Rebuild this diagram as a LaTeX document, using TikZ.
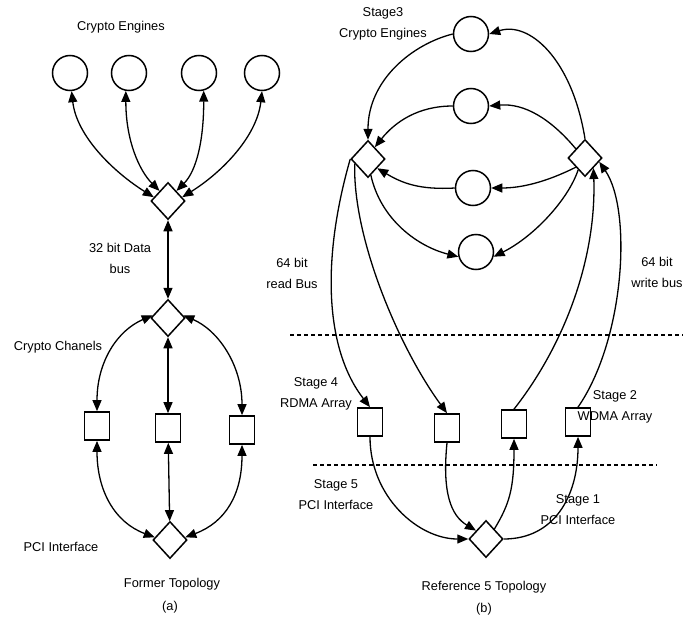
\documentclass[tikz,border=0pt]{standalone}
\usepackage{fontspec}
\setmainfont{Liberation Sans}
\usetikzlibrary{shapes.geometric,arrows.meta}
\tikzset{
  engine/.style={draw, circle, line width=1.5pt, minimum size=35pt, inner sep=0pt},
  switch/.style={draw, diamond, line width=1.5pt, minimum width=34pt, minimum height=37pt, inner sep=0pt},
  chan/.style={draw, rectangle, line width=1.7pt, minimum width=25pt, minimum height=28pt, inner sep=0pt},
  lbl/.style={align=center, inner sep=0pt, font=\fontsize{12.8}{21}\selectfont},
  bus/.style={line width=1.3pt, -{Triangle[length=11pt,width=9pt]}},
  dbus/.style={line width=1.3pt, {Triangle[length=11pt,width=9pt]}-{Triangle[length=11pt,width=9pt]}},
  stageline/.style={line width=1.2pt, dash pattern=on 4pt off 3pt}
}
\begin{document}
\begin{tikzpicture}[x=1pt,y=-1pt]
    \useasboundingbox (0,0) rectangle (683,621);
    % (a) former topology
    \node[lbl] (engA) at (121,27) {Crypto Engines};
    \node[engine] (a1) at (70,73) {};
    \node[engine] (a2) at (129,73) {};
    \node[engine] (a3) at (199,73) {};
    \node[engine] (a4) at (262,73) {};
    \node[switch] (ta) at (168,201) {};
    \node[lbl] (busA) at (120,258) {32 bit Data\\bus};
    \node[switch] (ma) at (168,318) {};
    \node[lbl] (chanA) at (58,347) {Crypto Chanels};
    \node[chan] (sa1) at (97,426) {};
    \node[chan] (sa2) at (168,428) {};
    \node[chan] (sa3) at (242,430) {};
    \node[switch] (ba) at (170,540) {};
    \node[lbl] (pciA) at (61,547) {PCI Interface};
    \node[lbl] (titA) at (172,584) {Former Topology};
    \node[lbl] (capA) at (170,607) {(a)};
    \draw[dbus] (a1.-85) .. controls +(5,45) and +(-40,-25) .. (ta.165);
    \draw[dbus] (a2.-100) .. controls +(0,50) and +(-20,-20) .. (ta.130);
    \draw[dbus] (a3.-75) .. controls +(0,50) and +(20,-20) .. (ta.50);
    \draw[dbus] (a4.-90) .. controls +(-5,45) and +(40,-25) .. (ta.15);
    \draw[dbus] (ta) -- (ma);
    \draw[dbus] (ma.170) .. controls +(-35,15) and +(0,-50) .. (sa1.north);
    \draw[dbus] (ma) -- (sa2);
    \draw[dbus] (ma.10) .. controls +(35,15) and +(0,-50) .. (sa3.north);
    \draw[dbus] (sa1.south) .. controls +(0,50) and +(-40,-15) .. (ba.170);
    \draw[dbus] (sa2) -- (ba);
    \draw[dbus] (sa3.south) .. controls +(0,50) and +(40,-15) .. (ba.10);
    % (b) reference 5 topology
    \node[lbl] (engB) at (383,24) {Stage3\\Crypto Engines};
    \node[engine] (b1) at (471,34) {};
    \node[engine] (b2) at (471,106) {};
    \node[engine] (b3) at (473,188) {};
    \node[engine] (b4) at (476,252) {};
    \node[switch] (rd) at (368,159) {};
    \node[switch] (wr) at (585,158) {};
    \node[lbl] (rdbus) at (292,273) {64 bit\\read Bus};
    \node[lbl] (wrbus) at (657,272) {64 bit\\write bus};
    \node[chan] (sb1) at (370,422) {};
    \node[chan] (sb2) at (447,428) {};
    \node[chan] (sb3) at (514,424) {};
    \node[chan] (sb4) at (578,422) {};
    \node[switch] (pb) at (486,539) {};
    \node[lbl] (st4) at (316,394) {Stage 4\\RDMA Array};
    \node[lbl] (st2) at (615,407) {Stage 2\\WDMA Array};
    \node[lbl] (st5) at (336,495) {Stage 5\\PCI Interface};
    \node[lbl] (st1) at (578,510) {Stage 1\\PCI Interface};
    \node[lbl] (titB) at (484,587) {Reference 5 Topology};
    \node[lbl] (capB) at (484,609) {(b)};
    \draw[stageline] (290,335) -- (683,335);
    \draw[stageline] (313,465) -- (657,465);
    \draw[bus] (wr.north) .. controls +(-13,-80) and +(40,-13) .. (b1.east);
    \draw[bus] (b1.west) .. controls +(-40,10) and +(0,-60) .. (rd.north);
    \draw[bus] (wr.135) .. controls +(-25,-30) and +(35,-3) .. (b2.east);
    \draw[bus] (b2.west) .. controls +(-35,0) and +(20,-25) .. (rd.60);
    \draw[bus] (wr.225) .. controls +(-30,15) and +(30,0) .. (b3.east);
    \draw[bus] (b3.west) .. controls +(-35,2) and +(25,15) .. (rd.-45);
    \draw[bus] (rd.-80) .. controls +(10,45) and +(-40,-10) .. (b4.195);
    \draw[bus] (wr.-120) .. controls +(-10,30) and +(40,-20) .. (b4.-15);
    \draw[bus] (rd.west) .. controls +(-29,101) and +(-45,-58) .. (sb1.north);
    \draw[bus] (rd.200) .. controls +(-2,76) and +(-47,-64) .. (sb2.north);
    \draw[bus] (sb3.north) .. controls +(51,-65) and +(3,90) .. (wr.-50);
    \draw[bus] (sb4.north) .. controls +(47,-68) and +(33,48) .. (wr.-15);
    \draw[bus] (sb1.south) .. controls +(0,60) and +(-50,0) .. (pb.west);
    \draw[bus] (sb2.south) .. controls +(-5,50) and +(-25,-15) .. (pb.140);
    \draw[bus] (pb.50) .. controls +(15,-25) and +(0,50) .. (sb3.south);
    \draw[bus] (pb.east) .. controls +(50,0) and +(0,60) .. (sb4.south);
\end{tikzpicture}
\end{document}
